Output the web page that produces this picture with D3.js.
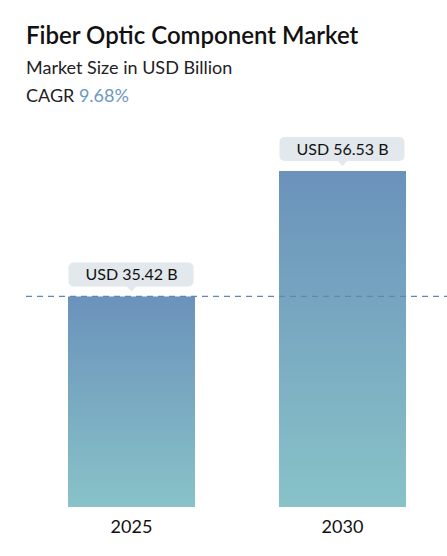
<!DOCTYPE html><html><head><script src="https://cdn.jsdelivr.net/npm/d3@7"></script>
<style>body{margin:0;background:#fff}text{font-family:Lato,"Open Sans",sans-serif}</style></head><body>
<svg id="c" width="447" height="556"></svg>
<script>
const categories=["2025","2030"];
const values=[35.42,56.53];
const labels=["USD 35.42 B","USD 56.53 B"];
const svg=d3.select("#c");
const defs=svg.append("defs");
const g=defs.append("linearGradient").attr("id","gr").attr("x1",0).attr("y1",0).attr("x2",0).attr("y2",1);
g.append("stop").attr("offset","0%").attr("stop-color","#6b92bb");
g.append("stop").attr("offset","100%").attr("stop-color","#88c3c8");
svg.append("text").attr("x",26).attr("y",44).attr("font-size",24).attr("font-weight",600).attr("fill","#111").text("Fiber Optic Component Market");
svg.append("text").attr("x",26).attr("y",74).attr("font-size",18).attr("fill","#222").text("Market Size in USD Billion");
const cg=svg.append("text").attr("x",26).attr("y",102).attr("font-size",18).attr("fill","#222");
cg.append("tspan").text("CAGR ");cg.append("tspan").attr("fill","#6d98c0").text("9.68%");
const x=d3.scaleBand().domain(categories).range([68,406]).paddingInner(0.398).paddingOuter(0);
const y=d3.scaleLinear().domain([0,56.53]).range([507,171]);
svg.selectAll(".bar").data(values).join("rect").attr("x",(d,i)=>x(categories[i])).attr("y",d=>y(d)).attr("width",x.bandwidth()).attr("height",d=>507-y(d)).attr("fill","url(#gr)");
svg.append("line").attr("x1",26).attr("x2",447).attr("y1",y(values[0])).attr("y2",y(values[0])).attr("stroke","#5f87b0").attr("stroke-width",1.2).attr("stroke-dasharray","6,5");
values.forEach((v,i)=>{const cx=x(categories[i])+x.bandwidth()/2,top=y(v);
 svg.append("rect").attr("x",cx-63).attr("y",top-34).attr("width",125).attr("height",24).attr("rx",5).attr("fill","#e2e8ec");
 svg.append("path").attr("d",`M${cx-5},${top-10.5}L${cx},${top-5}L${cx+5},${top-10.5}Z`).attr("fill","#e2e8ec");
 svg.append("text").attr("x",cx).attr("y",top-16).attr("text-anchor","middle").attr("font-size",16).attr("fill","#111").text(labels[i]);
 svg.append("text").attr("x",cx).attr("y",533).attr("text-anchor","middle").attr("font-size",18).attr("fill","#111").text(categories[i]);
});
</script></body></html>
